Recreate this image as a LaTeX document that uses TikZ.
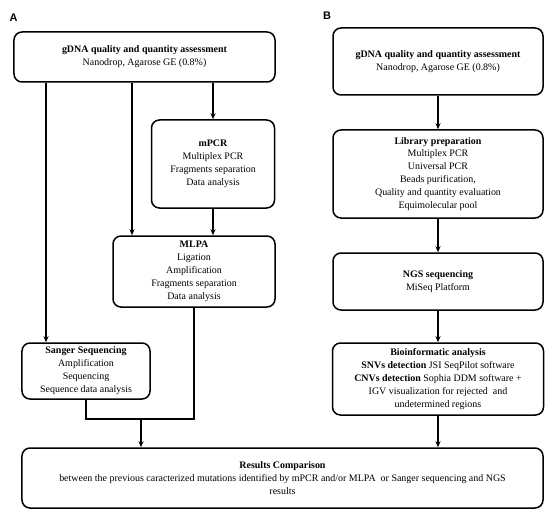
\documentclass[tikz,border=0pt]{standalone}
\usepackage{fontspec}
\setmainfont{Liberation Serif}
\newfontfamily\labfont{Liberation Sans}
\usetikzlibrary{arrows.meta}
\tikzset{
  box/.style={draw, line width=1.5bp, rounded corners=8bp, align=center, inner sep=2bp,
    font=\fontsize{10}{13}\selectfont},
  arr/.style={line width=1.3bp, -{Stealth[length=6bp,width=5bp]}},
  joint/.style={line width=2bp},
  panel/.style={font=\labfont\bfseries\fontsize{11}{13}\selectfont, inner sep=0pt}
}
\begin{document}
\begin{tikzpicture}[x=1bp,y=-1bp]
\useasboundingbox (0,0) rectangle (550,512);
\node[panel] (pA) at (13.5,17.5) {A};
\node[panel] (pB) at (327,16) {B};
% Panel A
\node[box, minimum width=261bp, minimum height=50bp] (a1) at (144.5,57) {\textbf{gDNA quality and quantity assessment}\\Nanodrop, Agarose GE (0.8\%)};
\node[box, minimum width=123bp, minimum height=88bp] (mpcr) at (213,164) {\textbf{mPCR}\\Multiplex PCR\\Fragments separation\\Data analysis};
\node[box, minimum width=162bp, minimum height=71bp] (mlpa) at (194,271.5) {\textbf{MLPA}\\Ligation\\Amplification\\Fragments separation\\Data analysis};
\node[box, minimum width=128bp, minimum height=56bp] (sanger) at (86,371) {\textbf{Sanger Sequencing}\\Amplification\\Sequencing\\Sequence data analysis};
\node[box, minimum width=521bp, minimum height=60bp] (res) at (282.5,478) {\textbf{Results Comparison}\\between the previous caracterized mutations identified by mPCR and/or MLPA\ \ or Sanger sequencing and NGS\\results};
% Panel B
\node[box, minimum width=210bp, minimum height=67bp] (b1) at (438,61.5) {\textbf{gDNA quality and quantity assessment}\\Nanodrop, Agarose GE (0.8\%)};
\node[box, minimum width=210bp, minimum height=88bp] (lib) at (438,174) {\textbf{Library preparation}\\Multiplex PCR\\Universal PCR\\Beads purification,\\Quality and quantity evaluation\\Equimolecular pool};
\node[box, minimum width=210bp, minimum height=57bp] (ngs) at (438,281.5) {\textbf{NGS sequencing}\\MiSeq Platform};
\node[box, minimum width=211bp, minimum height=72bp] (bio) at (438,379) {\textbf{Bioinformatic analysis}\\\textbf{SNVs detection} JSI SeqPilot software\\\textbf{CNVs detection} Sophia DDM software +\\IGV visualization for rejected\ \ and\\undetermined regions};
% coordinates
\coordinate (xs) at (46,0);
\coordinate (xm) at (132,0);
\coordinate (jr) at (194,419);
\coordinate (jl) at (86,419);
\coordinate (jm) at (141,419);
% connectors A
\draw[arr] (a1.south -| mpcr.north) -- (mpcr.north);
\draw[arr] (a1.south -| xm) -- (mlpa.north -| xm);
\draw[arr] (a1.south -| xs) -- (sanger.north -| xs);
\draw[arr] (mpcr.south) -- (mlpa.north -| mpcr.south);
\draw[joint] (mlpa.south -| jr) -- (jr) -- (jl) -- (sanger.south);
\draw[arr] (jm) -- (res.north -| jm);
% connectors B
\draw[arr] (b1.south) -- (lib.north);
\draw[arr] (lib.south) -- (ngs.north);
\draw[arr] (ngs.south) -- (bio.north);
\draw[arr] (bio.south) -- (res.north -| bio.south);
\end{tikzpicture}
\end{document}
